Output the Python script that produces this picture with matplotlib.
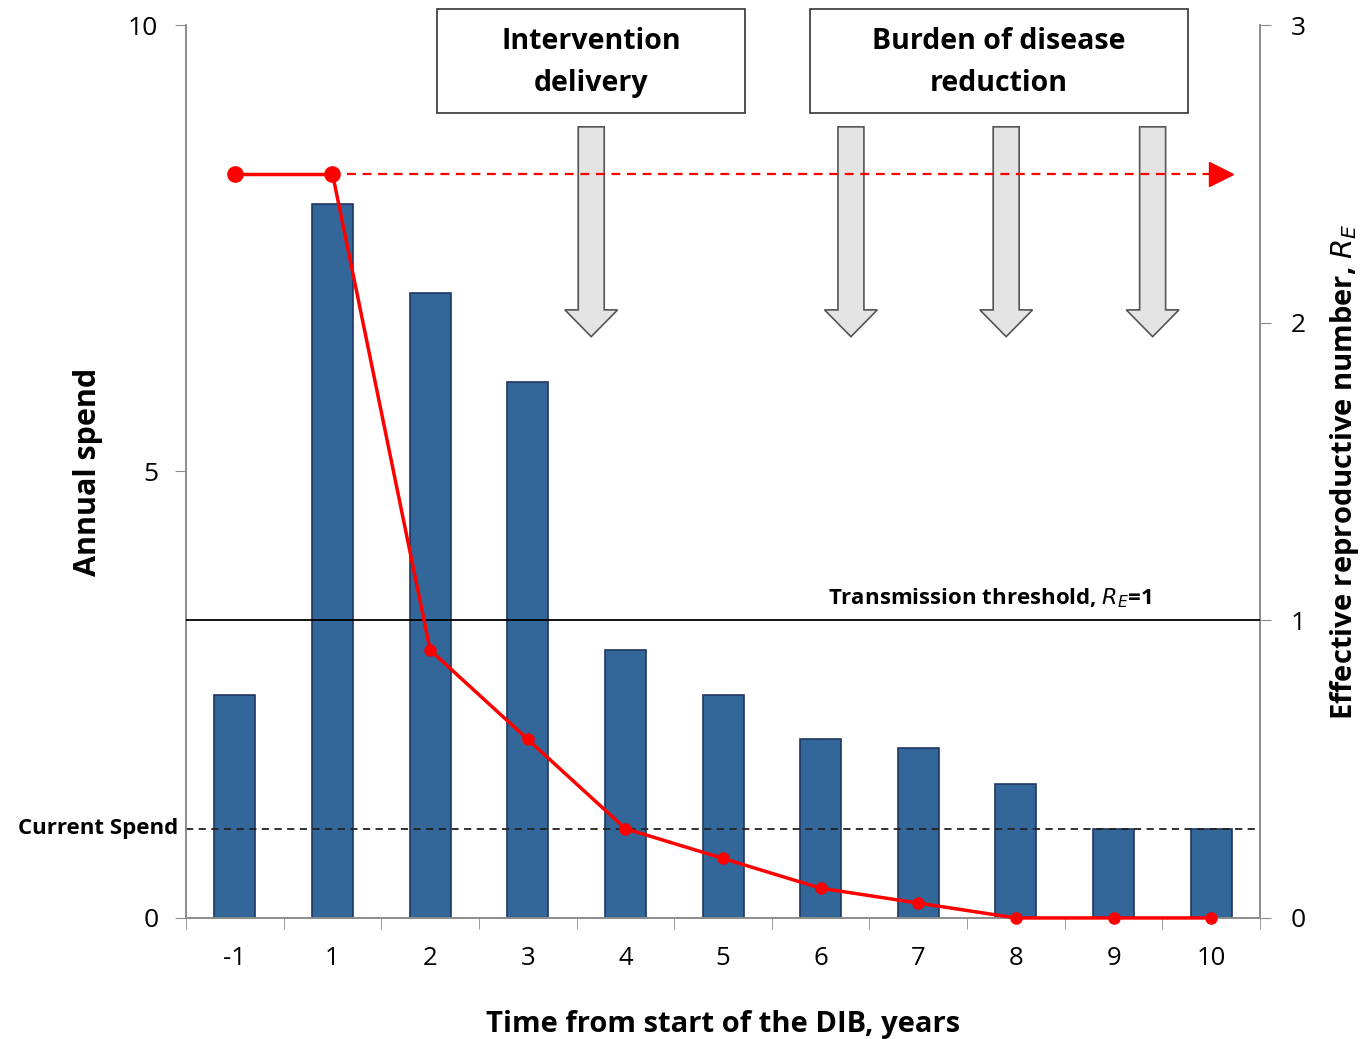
import matplotlib
matplotlib.use("Agg")
import matplotlib.pyplot as plt
from matplotlib.patches import Rectangle, Polygon

plt.rcParams['font.family'] = ['Open Sans', 'DejaVu Sans']

# data
years = ['-1', '1', '2', '3', '4', '5', '6', '7', '8', '9', '10']
spend = [2.5, 8.0, 7.0, 6.0, 3.0, 2.5, 2.0, 1.9, 1.5, 1.0, 1.0]
re_vals = [2.5, 2.5, 0.9, 0.6, 0.3, 0.2, 0.1, 0.05, 0.0, 0.0, 0.0]
current_spend = 1.0
threshold = 1.0
re_target = 2.5
arrow_x = [3.65, 6.31, 7.9, 9.4]

x = list(range(len(years)))
grey = '#8c8c8c'

fig = plt.figure(figsize=(13.69, 10.39), dpi=100)
ax = fig.add_axes([0.1359, 0.1165, 0.7845, 0.8594])
ax2 = ax.twinx()

# bars
ax.bar(x, spend, width=0.42, color='#336699', edgecolor='#1f3864', linewidth=1.2, zorder=2)
ax.set_xlim(-0.5, 10.5)
ax.set_ylim(0, 10)
ax.set_yticks([0, 5, 10])
ax.set_xticks(x)
ax.set_xticklabels(years)
ax.set_xticks([i - 0.5 for i in range(len(years) + 1)], minor=True)
ax.tick_params(axis='x', which='major', length=0, pad=20, labelsize=18.5)
ax.tick_params(axis='x', which='minor', length=8, color=grey, direction='out')
ax.tick_params(axis='y', length=8, color=grey, labelsize=19, pad=12)

# current spend line
ax.axhline(current_spend, color='#222222', ls=(0, (4, 3)), lw=1.3, zorder=3)
ax.text(-0.58, current_spend, 'Current Spend', ha='right', va='center',
        fontsize=16, fontweight='bold')

# RE line on right axis
ax2.set_ylim(0, 3)
ax2.set_yticks([0, 1, 2, 3])
ax2.tick_params(axis='y', length=8, color=grey, labelsize=19, pad=14)
ax2.plot(x[1:], re_vals[1:], color='red', lw=2.5, marker='o', ms=8, zorder=5, clip_on=False)
ax2.plot(x[:2], re_vals[:2], color='red', lw=2.5, marker='o', ms=11, zorder=5)
ax2.plot([1.15, 10.05], [re_target, re_target], color='red', lw=1.6, ls=(0, (4, 3)), zorder=4)
ax2.plot([10.1], [re_target], marker='>', color='red', ms=17, zorder=5)
ax2.axhline(threshold, color='black', lw=1.3, zorder=3)
ax2.text(7.73, threshold + 0.035, 'Transmission threshold, $\\mathbf{\\it{R_E}}$=1',
         ha='center', va='bottom', fontsize=16, fontweight='bold')

for a in (ax, ax2):
    a.spines['top'].set_visible(False)
    for s in ('left', 'right', 'bottom'):
        a.spines[s].set_color(grey)
        a.spines[s].set_linewidth(1.2)

# block arrows
for ax_ in arrow_x:
    shaft = 0.133
    head = 0.27
    pts = [(ax_ - shaft, 8.86), (ax_ + shaft, 8.86), (ax_ + shaft, 6.81),
           (ax_ + head, 6.81), (ax_, 6.51), (ax_ - head, 6.81), (ax_ - shaft, 6.81)]
    ax.add_patch(Polygon(pts, closed=True, facecolor='#e4e4e4', edgecolor='#555555',
                         lw=1.2, zorder=3))

# boxes
boxes = [(2.07, 5.225, 'Intervention\ndelivery'), (5.89, 9.76, 'Burden of disease\nreduction')]
for x0, x1, label in boxes:
    ax.add_patch(Rectangle((x0, 9.01), x1 - x0, 1.17, facecolor='white', edgecolor='#333333',
                           lw=1.2, clip_on=False, zorder=6))
    ax.text((x0 + x1) / 2, 9.58, label, ha='center', va='center', fontsize=20.5,
            fontweight='bold', linespacing=1.6, zorder=7)

ax.set_ylabel('Annual spend', fontsize=22, fontweight='bold', labelpad=18)
ax2.set_ylabel('Effective reproductive number, $\\mathbf{\\it{R_E}}$', fontsize=21,
               fontweight='bold', labelpad=16)
ax.set_xlabel('Time from start of the DIB, years', fontsize=21, fontweight='bold', labelpad=28)

fig.savefig('out.png', dpi=100)
